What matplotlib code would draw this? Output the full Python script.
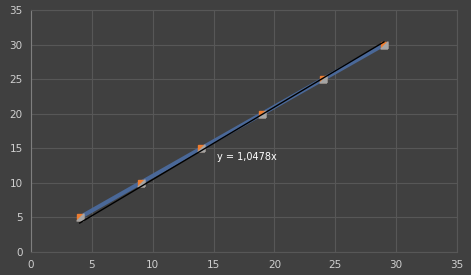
import matplotlib
matplotlib.use("Agg")
import matplotlib.pyplot as plt
import numpy as np

# data
x_vals = [4, 9, 14, 19, 24, 29]
y_vals = [5, 10, 15, 20, 25, 30]
slope = 1.0478
trend_label = "y = 1,0478x"

bg = "#404040"
fig = plt.figure(figsize=(4.71, 2.75), dpi=100, facecolor=bg)
ax = fig.add_axes([31 / 471, 23 / 275, 426 / 471, 242 / 275], facecolor=bg)

ax.set_xlim(0, 35)
ax.set_ylim(0, 35)
ax.set_xticks(range(0, 36, 5))
ax.set_yticks(range(0, 36, 5))
ax.grid(True, color="#575757", linewidth=0.8)
ax.set_axisbelow(True)
ax.tick_params(length=0, colors="#d0d0d0", labelsize=7.5, pad=6)
for side in ["top", "right", "bottom"]:
    ax.spines[side].set_color("#575757")
ax.spines["left"].set_color("#7f7f7f")

# data series
ax.plot(x_vals, y_vals, color="#4a6898", linewidth=3, zorder=3)
ax.plot(x_vals, y_vals, "s", color="#ed7d31", markersize=5, zorder=4)
tri = [(1, -1), (1, 1), (-1, -1), (1, -1)]
ax.plot(x_vals, y_vals, marker=tri, linestyle="none", color="#a5a5a5",
        markersize=5, zorder=5)

# linear trendline through origin
tx = np.array([x_vals[0], x_vals[-1]])
ax.plot(tx, slope * tx, color="black", linewidth=1, zorder=6)
ax.text(15.3, 13.7, trend_label, color="white", fontsize=7, va="center", ha="left")

fig.savefig("out.png", dpi=100, facecolor=bg)
